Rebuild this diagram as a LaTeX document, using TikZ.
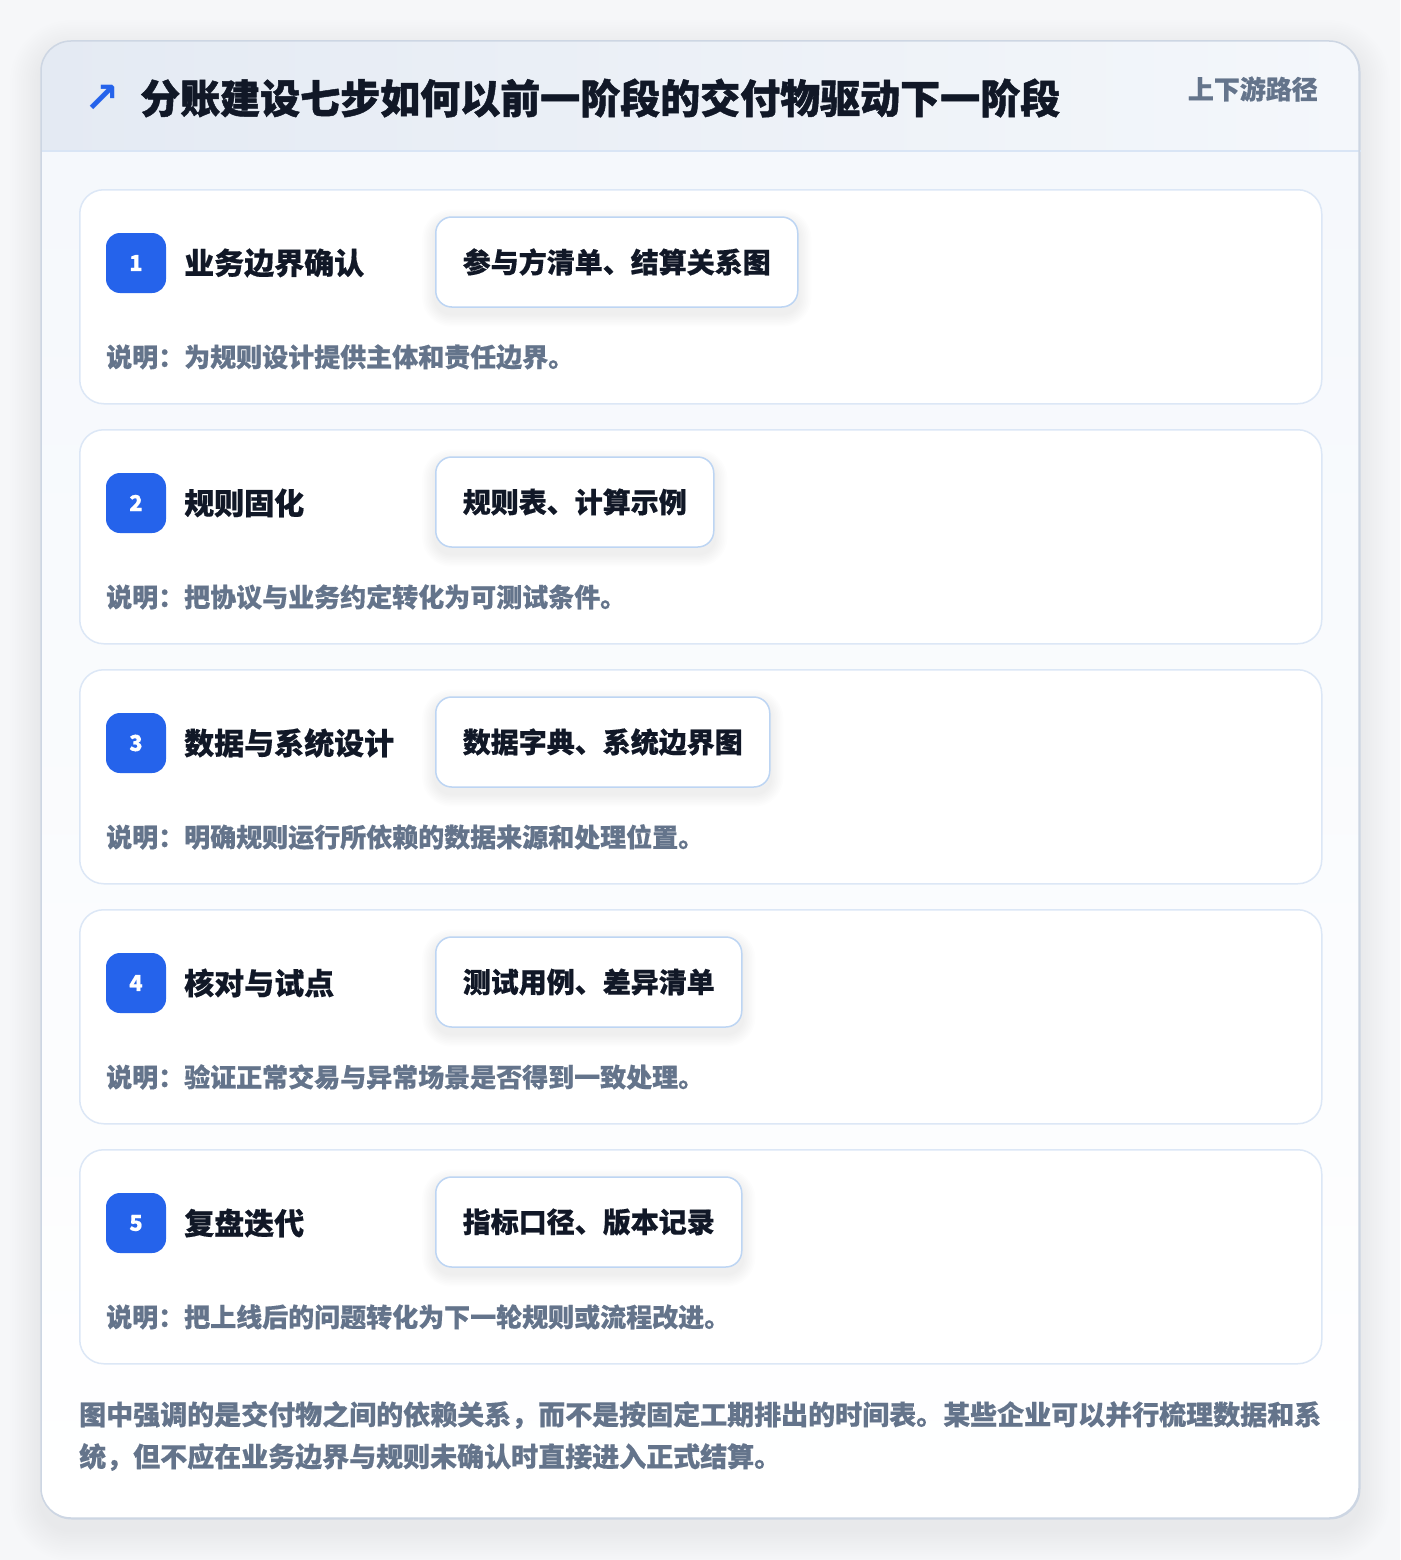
\documentclass[tikz,border=0pt]{standalone}
\usepackage{fontspec}
\setmainfont{Noto Sans CJK SC}[BoldFeatures={FakeBold=0.5}]
\newfontfamily\titlefont{Noto Sans CJK SC}[BoldFeatures={FakeBold=1.2}]
\newfontfamily\symfont{DejaVu Sans}
\definecolor{pagebg}{HTML}{F6F7F9}
\definecolor{cardborder}{HTML}{CDD6E3}
\definecolor{hdrA}{HTML}{E4EAF3}
\definecolor{hdrB}{HTML}{F4F7FB}
\definecolor{bodyA}{HTML}{F5F8FC}
\definecolor{hdrline}{HTML}{D9E5F5}
\definecolor{stepborder}{HTML}{DCE7F6}
\definecolor{badgeblue}{HTML}{2563EB}
\definecolor{ink}{HTML}{111827}
\definecolor{muted}{HTML}{64748B}
\definecolor{delivborder}{HTML}{BDD5F3}
\begin{document}
\begin{tikzpicture}[x=1pt,y=-1pt,
  maincard/.style={draw=cardborder, line width=1.5pt, rounded corners=30pt},
  stepcard/.style={draw=stepborder, line width=1.5pt, fill=white, rounded corners=24pt,
    minimum width=1242pt, minimum height=214pt, anchor=north west, inner sep=0pt},
  badge/.style={fill=badgeblue, rounded corners=14pt, minimum width=60pt, minimum height=60pt,
    text=white, font=\fontsize{22}{22}\selectfont\bfseries, inner sep=0pt},
  steptitle/.style={anchor=west, text=ink, font=\fontsize{30}{36}\selectfont\bfseries, inner sep=0pt},
  deliv/.style={draw=delivborder, line width=1.5pt, fill=white, rounded corners=16pt,
    minimum height=90pt, inner xsep=27pt, anchor=west, text=ink,
    font=\fontsize{28}{34}\selectfont\bfseries},
  desc/.style={anchor=west, text=muted, font=\fontsize{26}{30}\selectfont\bfseries, inner sep=0pt},
  softshadow/.style={fill=black, opacity=#1},
]
\useasboundingbox (0,0) rectangle (1400,1560);
\fill[pagebg] (0,0) rectangle (1400,1560);
% soft shadow of main card
\foreach \i in {1,...,14}{
  \pgfmathsetmacro\r{30+2.2*\i}
  \pgfmathsetmacro\e{2.2*\i}
  \fill[softshadow=0.0055, rounded corners=\r pt] (41-\e,51-\e) rectangle (1359+\e,1530+\e);
}
% main card
\node[maincard, fill=white, anchor=north west, minimum width=1318pt, minimum height=1477pt, inner sep=0pt] (main) at (41,41) {};
\begin{scope}
  \clip[rounded corners=30pt] (41,41) rectangle (1359,1518);
  \shade[left color=hdrA, right color=hdrB] (41,41) rectangle (1359,151);
  \shade[top color=bodyA, bottom color=white] (41,151) rectangle (1359,1518);
\end{scope}
\draw[hdrline, line width=1.5pt] (main.west |- 0,151) -- (main.east |- 0,151);
\draw[maincard] (41,41) rectangle (1359,1518);
% header
\node[text=badgeblue, font=\symfont\bfseries\fontsize{42}{42}\selectfont, inner sep=0pt] (icon) at (102,99) {↗};
\node[anchor=west, text=ink, font=\titlefont\fontsize{40}{46}\selectfont\bfseries, inner sep=0pt] (title) at (140,98)
  {分账建设七步如何以前一阶段的交付物驱动下一阶段};
\node[anchor=east, text=muted, font=\fontsize{26}{30}\selectfont\bfseries, inner sep=0pt] (tag) at (1318,89)
  {上下游路径};
% steps
\foreach \n/\ty/\t/\d/\s in {
  1/189/业务边界确认/参与方清单、结算关系图/说明：为规则设计提供主体和责任边界。,
  2/429/规则固化/规则表、计算示例/说明：把协议与业务约定转化为可测试条件。,
  3/669/数据与系统设计/数据字典、系统边界图/说明：明确规则运行所依赖的数据来源和处理位置。,
  4/909/核对与试点/测试用例、差异清单/说明：验证正常交易与异常场景是否得到一致处理。,
  5/1149/复盘迭代/指标口径、版本记录/说明：把上线后的问题转化为下一轮规则或流程改进。}{
  \node[stepcard] (card\n) at (79,\ty) {};
  \node[badge] (badge\n) at (136,\ty+74) {\n};
  \node[steptitle] (stitle\n) at (184,\ty+74) {\t};
  \node[deliv, draw=none, fill=none, text=white, opacity=0] (dtmp\n) at (435,\ty+73) {\d};
  \foreach \k in {1,...,8}{
    \pgfmathsetmacro\r{16+1.6*\k}
    \pgfmathsetmacro\e{1.6*\k}
    \fill[softshadow=0.006, rounded corners=\r pt]
      ([xshift=-\e pt, yshift=\e pt-6pt]dtmp\n.north west) rectangle ([xshift=\e pt, yshift=-\e pt-6pt]dtmp\n.south east);
  }
  \node[deliv] (deliv\n) at (435,\ty+73) {\d};
  \node[desc] (desc\n) at (106,\ty+168) {\s};
}
% footer
\node[anchor=west, align=left, text=muted, font=\fontsize{27}{42}\selectfont\bfseries, inner sep=0pt] (footer) at (79,1436)
  {图中强调的是交付物之间的依赖关系，而不是按固定工期排出的时间表。某些企业可以并行梳理数据和系\\统，但不应在业务边界与规则未确认时直接进入正式结算。};
\end{tikzpicture}
\end{document}
